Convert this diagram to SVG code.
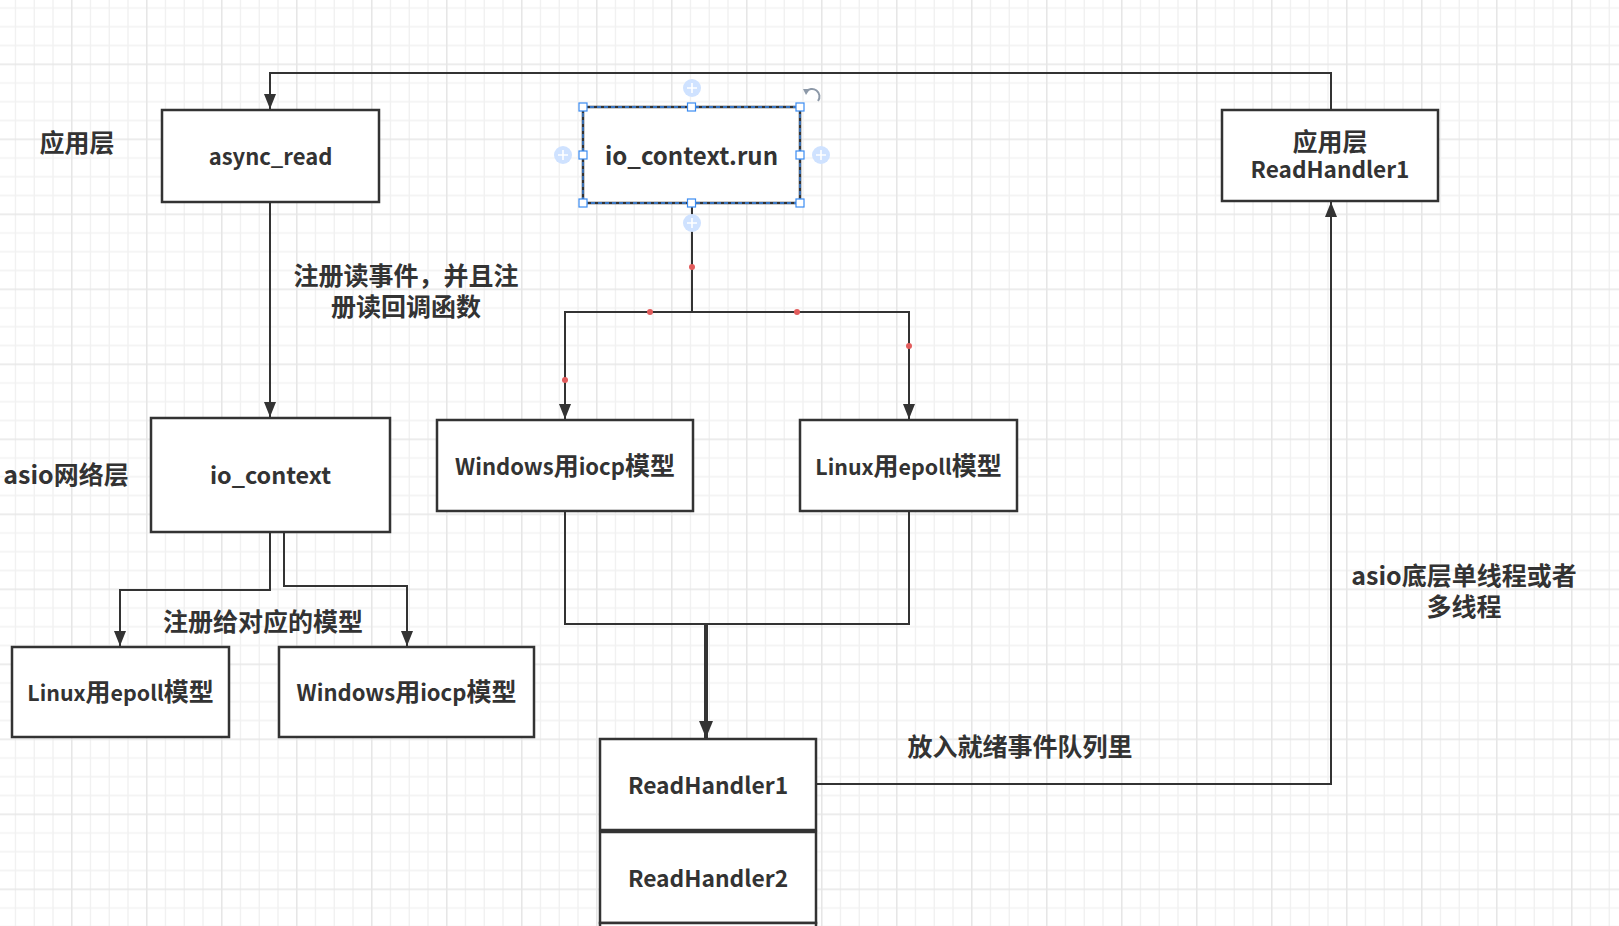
<svg xmlns="http://www.w3.org/2000/svg" width="1619" height="926" viewBox="0 0 1619 926">
<style>
.box{fill:#fff;stroke:#333;stroke-width:2.5}
.t{font-family:"Noto Sans CJK SC","Open Sans",sans-serif;font-size:25px;font-weight:700;fill:#333;text-anchor:middle;dominant-baseline:central}
.m{font-family:"Noto Sans CJK SC","Open Sans",sans-serif;font-size:25px;font-weight:700;fill:#333;text-anchor:middle}
.ln{fill:none;stroke:#333;stroke-width:2}
.thick{fill:none;stroke:#333;stroke-width:4}
.dot{fill:#e25c5c}
.hd{fill:#fff;stroke:#3b8cf2;stroke-width:1.2}
.plus{fill:#cfe2ff}
.plusx{stroke:#fff;stroke-width:1.6}
</style>
<defs>
<pattern id="grid" x="71" y="63.5" width="75" height="75" patternUnits="userSpaceOnUse">
<path d="M19.5 0V75M38.25 0V75M57 0V75M0 19.5H75M0 38.25H75M0 57H75" stroke="#f1f1f1" stroke-width="1.4"/>
<path d="M0.75 0V75M0 0.75H75" stroke="#e6e6e6" stroke-width="1.6"/>
</pattern>
<marker id="arr" markerUnits="userSpaceOnUse" viewBox="0 0 15 12" markerWidth="15" markerHeight="12" refX="15" refY="6" orient="auto">
<path d="M0 0L15 6L0 12z" fill="#333"/>
</marker>
<marker id="arrB" markerUnits="userSpaceOnUse" viewBox="0 0 17 14" markerWidth="17" markerHeight="14" refX="17" refY="7" orient="auto">
<path d="M0 0L17 7L0 14z" fill="#333"/>
</marker>
</defs>
<rect width="1619" height="926" fill="#fff"/>
<rect width="1619" height="926" fill="url(#grid)"/>

<g id="connectors">
<path class="ln" d="M1331 110V73H270V109" marker-end="url(#arr)"/>
<path class="ln" d="M270 202V417" marker-end="url(#arr)"/>
<path class="ln" d="M270 532V590H120V646" marker-end="url(#arr)"/>
<path class="ln" d="M284 530V586H407V646" marker-end="url(#arr)"/>
<path class="ln" d="M692 203V312H565V419" marker-end="url(#arr)"/>
<path class="ln" d="M692 312H909V419" marker-end="url(#arr)"/>
<path class="ln" d="M565 511V624H909V511"/>
<path class="thick" d="M706 624V738" marker-end="url(#arrB)"/>
<path class="ln" d="M816 784H1331V202" marker-end="url(#arr)"/>
<circle class="dot" cx="692" cy="267" r="3"/>
<circle class="dot" cx="650" cy="312" r="3"/>
<circle class="dot" cx="797" cy="312" r="3"/>
<circle class="dot" cx="565" cy="380" r="3"/>
<circle class="dot" cx="909" cy="346" r="3"/>
</g>

<g id="labels">
<text class="t" x="77" y="141">应用层</text>
<text class="t" x="66" y="473">asio网络层</text>
<text class="t" x="406" y="274">注册读事件，并且注</text>
<text class="t" x="406" y="305">册读回调函数</text>
<text class="t" x="263" y="620">注册给对应的模型</text>
<text class="t" x="1020" y="745">放入就绪事件队列里</text>
<text class="t" x="1464" y="574">asio底层单线程或者</text>
<text class="t" x="1464" y="605">多线程</text>
</g>

<g id="node-async-read">
<rect class="box" x="162" y="110" width="217" height="92"/>
<text class="t" x="270.5" y="155" style="font-size:22px">async_read</text>
</g>

<g id="node-io-context-run">
<rect class="box" x="583" y="107" width="217" height="96"/>
<text class="t" x="691.5" y="154" style="font-size:24px">io_context.run</text>
</g>

<g id="node-app-readhandler1">
<rect class="box" x="1222" y="110" width="216" height="91"/>
<text class="t" x="1330" y="140">应用层</text>
<text class="t" x="1330" y="168" style="font-size:22.6px">ReadHandler1</text>
</g>

<g id="node-io-context">
<rect class="box" x="151" y="418" width="239" height="114"/>
<text class="t" x="270.5" y="474" style="font-size:23.4px">io_context</text>
</g>

<g id="node-windows-iocp-1">
<rect class="box" x="437" y="420" width="256" height="91"/>
<text class="m" x="565" y="475"><tspan font-size="22">Windows</tspan>用<tspan font-size="22">iocp</tspan>模型</text>
</g>

<g id="node-linux-epoll-1">
<rect class="box" x="800" y="420" width="217" height="91"/>
<text class="m" x="908.5" y="475"><tspan font-size="21.4">Linux</tspan>用<tspan font-size="21.4">epoll</tspan>模型</text>
</g>

<g id="node-linux-epoll-2">
<rect class="box" x="12" y="647" width="217" height="90"/>
<text class="m" x="120.5" y="701"><tspan font-size="21.4">Linux</tspan>用<tspan font-size="21.4">epoll</tspan>模型</text>
</g>

<g id="node-windows-iocp-2">
<rect class="box" x="279" y="647" width="255" height="90"/>
<text class="m" x="406.5" y="701"><tspan font-size="22">Windows</tspan>用<tspan font-size="22">iocp</tspan>模型</text>
</g>

<g id="node-readhandler1">
<rect class="box" x="600" y="739" width="216" height="91"/>
<text class="t" x="708" y="784" style="font-size:22.8px">ReadHandler1</text>
</g>

<g id="node-readhandler2">
<rect class="box" x="600" y="832" width="216" height="91"/>
<text class="t" x="708" y="877" style="font-size:22.8px">ReadHandler2</text>
</g>

<g id="node-readhandler3">
<rect class="box" x="600" y="923" width="216" height="40"/>
</g>

<g id="selection">
<rect x="583" y="107" width="217" height="96" fill="none" stroke="#3b8cf2" stroke-width="1.3" stroke-dasharray="4 3"/>
<rect class="hd" x="579" y="103" width="8" height="8"/>
<rect class="hd" x="687.5" y="103" width="8" height="8"/>
<rect class="hd" x="796" y="103" width="8" height="8"/>
<rect class="hd" x="579" y="151" width="8" height="8"/>
<rect class="hd" x="796" y="151" width="8" height="8"/>
<rect class="hd" x="579" y="199" width="8" height="8"/>
<rect class="hd" x="687.5" y="199" width="8" height="8"/>
<rect class="hd" x="796" y="199" width="8" height="8"/>
<circle class="plus" cx="692" cy="88" r="9"/>
<path class="plusx" d="M687 88H697M692 83V93"/>
<circle class="plus" cx="563" cy="155" r="9"/>
<path class="plusx" d="M558 155H568M563 150V160"/>
<circle class="plus" cx="821" cy="155" r="9"/>
<path class="plusx" d="M816 155H826M821 150V160"/>
<circle class="plus" cx="692" cy="223" r="9"/>
<path class="plusx" d="M687 223H697M692 218V228"/>
<path d="M806 92A7 7 0 0 1 818 101" fill="none" stroke="#8d99a8" stroke-width="2"/>
<path d="M803 89L810 89L806 95z" fill="#8d99a8"/>
</g>
</svg>
